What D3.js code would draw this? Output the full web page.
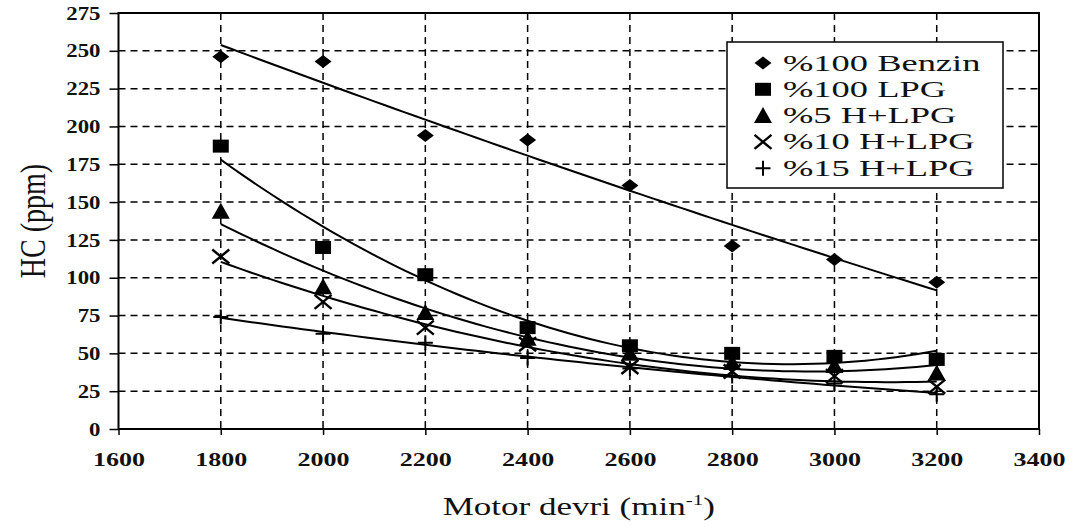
<!DOCTYPE html>
<html>
<head>
<meta charset="utf-8">
<script src="https://cdn.jsdelivr.net/npm/d3@7"></script>
<style>
  body { margin: 0; background: #fff; }
  svg { display: block; }
</style>
</head>
<body>
<svg id="chart" width="1085" height="530"></svg>
<script>
// values
const rpm = [1800, 2000, 2200, 2400, 2600, 2800, 3000, 3200];
const benzin = [246, 243, 194, 191, 161, 121, 112, 97];
const lpg = [187, 120, 102, 67, 55, 50, 48, 46];
const h5 = [144, 94, 77, 60, 50, 44, 42, 37];
const h10 = [114, 84, 67, 56, 41, 38, 35, 28];
const h15 = [74, 63, 57, 47, 40, 35, 30, 23];
const seriesNames = ["%100 Benzin", "%100 LPG", "%5 H+LPG", "%10 H+LPG", "%15 H+LPG"];
const seriesShapes = ["diamond", "square", "triangle", "cross", "plus"];
const xTicks = d3.range(1600, 3401, 200);
const yTicks = d3.range(0, 276, 25);

const series = [benzin, lpg, h5, h10, h15].map((vals, i) => ({
  name: seriesNames[i],
  shape: seriesShapes[i],
  values: vals.map((v, j) => ({ x: rpm[j], y: v }))
}));

const svg = d3.select("#chart");
const plotL = 118.5, plotR = 1039, plotT = 13, plotB = 429;

const x = d3.scaleLinear().domain([1600, 3400]).range([plotL, plotR]);
const y = d3.scaleLinear().domain([0, 275]).range([plotB, plotT]);

const serif = "'Liberation Serif', 'Times New Roman', serif";

// widen text the same way the scanned figure is widened
function stretch(sel, k) {
  sel.each(function () {
    const w = this.getComputedTextLength();
    d3.select(this).attr("textLength", w * k).attr("lengthAdjust", "spacingAndGlyphs");
  });
}

// quadratic least squares (what the spreadsheet trendline does)
function quadFit(pts) {
  let n = pts.length, sx = 0, sx2 = 0, sx3 = 0, sx4 = 0, sy = 0, sxy = 0, sx2y = 0;
  const x0 = pts[0].x;
  pts.forEach(p => {
    const t = (p.x - x0) / 1000;
    sx += t; sx2 += t * t; sx3 += t * t * t; sx4 += t * t * t * t;
    sy += p.y; sxy += t * p.y; sx2y += t * t * p.y;
  });
  const m = [[n, sx, sx2, sy], [sx, sx2, sx3, sxy], [sx2, sx3, sx4, sx2y]];
  for (let i = 0; i < 3; i++) {
    for (let k = i + 1; k < 3; k++) {
      const f = m[k][i] / m[i][i];
      for (let j = i; j < 4; j++) m[k][j] -= f * m[i][j];
    }
  }
  const c = [0, 0, 0];
  for (let i = 2; i >= 0; i--) {
    let s = m[i][3];
    for (let j = i + 1; j < 3; j++) s -= m[i][j] * c[j];
    c[i] = s / m[i][i];
  }
  return xv => {
    const t = (xv - x0) / 1000;
    return c[0] + c[1] * t + c[2] * t * t;
  };
}

// grid
const grid = svg.append("g")
  .attr("stroke", "#000")
  .attr("stroke-width", 1.5)
  .attr("stroke-dasharray", "7,5");
grid.selectAll("line.h")
  .data(yTicks.filter(d => d > 0 && d < 275))
  .join("line")
  .attr("class", "h")
  .attr("x1", plotL).attr("x2", plotR)
  .attr("y1", d => y(d)).attr("y2", d => y(d));
grid.selectAll("line.v")
  .data(xTicks.filter(d => d > 1600 && d < 3400))
  .join("line")
  .attr("class", "v")
  .attr("x1", d => x(d)).attr("x2", d => x(d))
  .attr("y1", plotT).attr("y2", plotB);

// trend curves
const line = d3.line().x(d => x(d.x)).y(d => y(d.y));
series.forEach(s => {
  const f = quadFit(s.values);
  const xs = d3.range(rpm[0], rpm[rpm.length - 1] + 1, 20);
  svg.append("path")
    .datum(xs.map(v => ({ x: v, y: f(v) })))
    .attr("d", line)
    .attr("fill", "none")
    .attr("stroke", "#000")
    .attr("stroke-width", 2);
});

function drawMarker(g, shape) {
  if (shape === "diamond") {
    g.append("path").attr("d", "M0,-6.5L8.5,0L0,6.5L-8.5,0Z").attr("fill", "#000");
  } else if (shape === "square") {
    g.append("rect").attr("x", -8).attr("y", -6.5).attr("width", 16).attr("height", 13).attr("fill", "#000");
  } else if (shape === "triangle") {
    g.append("path").attr("d", "M0,-8.5L9,7.5L-9,7.5Z").attr("fill", "#000");
  } else if (shape === "cross") {
    g.append("path").attr("d", "M-8.5,-7L8.5,7M-8.5,7L8.5,-7")
      .attr("stroke", "#000").attr("stroke-width", 2.4).attr("fill", "none");
  } else {
    g.append("path").attr("d", "M-7.5,0H7.5M0,-7.5V7.5")
      .attr("stroke", "#000").attr("stroke-width", 2).attr("fill", "none");
  }
}

// markers
series.forEach(s => {
  s.values.forEach(d => {
    const g = svg.append("g").attr("transform", `translate(${x(d.x)},${y(d.y)})`);
    drawMarker(g, s.shape);
  });
});

// axes
const yAxis = svg.append("g")
  .attr("transform", `translate(${plotL},0)`)
  .call(d3.axisLeft(y).tickValues(yTicks).tickFormat(d3.format("d")).tickSize(9).tickPadding(9));
const xAxis = svg.append("g")
  .attr("transform", `translate(0,${plotB})`)
  .call(d3.axisBottom(x).tickValues(xTicks).tickFormat(d3.format("d")).tickSize(6).tickPadding(18));
[[xAxis, 1.37], [yAxis, 1.2]].forEach(([a, k]) => {
  a.select(".domain").remove();
  a.selectAll("line").attr("stroke", "#000").attr("stroke-width", 1.5);
  a.selectAll("text")
    .attr("font-family", serif)
    .attr("font-size", 19)
    .attr("font-weight", "bold")
    .attr("fill", "#111")
    .call(stretch, k);
});

// frame
svg.append("rect")
  .attr("x", plotL).attr("y", plotT)
  .attr("width", plotR - plotL).attr("height", plotB - plotT)
  .attr("fill", "none").attr("stroke", "#000").attr("stroke-width", 2);

// axis titles
const xt = svg.append("text")
  .attr("x", (plotL + plotR) / 2).attr("y", 515)
  .attr("text-anchor", "middle")
  .attr("font-family", serif).attr("font-size", 25).attr("fill", "#111");
xt.append("tspan").text("Motor devri (min");
xt.append("tspan").text("-1").attr("font-size", 15).attr("dy", -10);
xt.append("tspan").text(")").attr("dy", 10);
xt.call(stretch, 1.4);

svg.append("text")
  .attr("transform", `translate(45,${(plotT + plotB) / 2}) rotate(-90) scale(1,1.25)`)
  .attr("text-anchor", "middle")
  .attr("font-family", serif).attr("font-size", 28).attr("fill", "#111")
  .text("HC (ppm)");

// legend
const legend = svg.append("g");
legend.append("rect")
  .attr("x", 727).attr("y", 42).attr("width", 276).attr("height", 146)
  .attr("fill", "#fff").attr("stroke", "#000").attr("stroke-width", 1.5);
series.forEach((s, i) => {
  const base = 70.5 + i * 26.3;
  const g = legend.append("g").attr("transform", `translate(763,${base - 7.5})`);
  drawMarker(g, s.shape);
  legend.append("text")
    .attr("x", 783).attr("y", base)
    .attr("font-family", serif).attr("font-size", 22.5).attr("fill", "#111")
    .text(s.name)
    .call(stretch, 1.62);
});
</script>
</body>
</html>
